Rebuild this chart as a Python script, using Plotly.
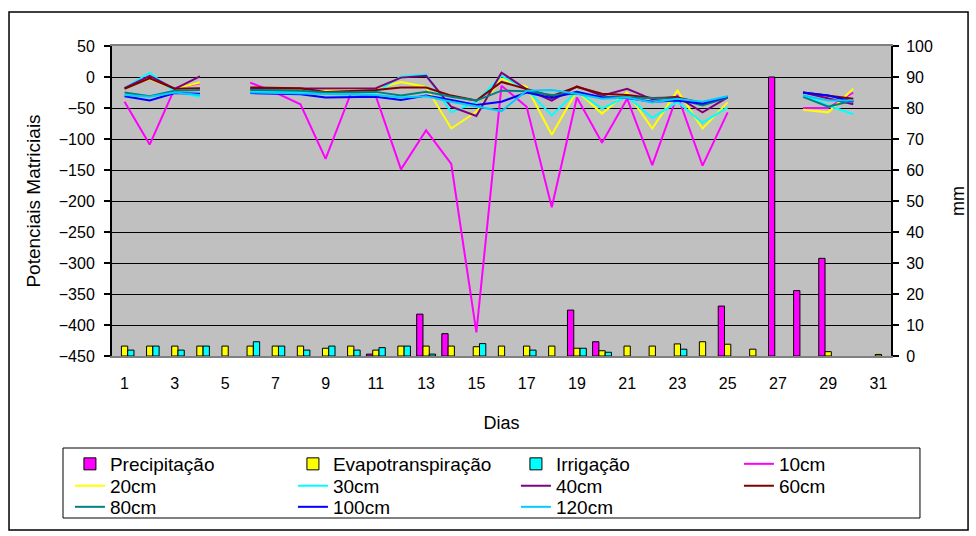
import plotly.graph_objects as go

# Dias do mês
dias = list(range(1, 32))
N = None

# Lâminas diárias (mm) - eixo da direita
precipitacao = [N, N, N, N, N, N, N, N, N, N, 0.6, N, 13.5, 7.2, N, N, N, N, 14.8, 4.6,
                N, N, N, N, 16.1, N, 90.0, 21.1, 31.5, N, N]
evapotranspiracao = [3.2, 3.2, 3.2, 3.2, 3.2, 3.2, 3.2, 3.2, 2.5, 3.2, 1.9, 3.2, 3.2, 3.2, 3.0, 3.2,
                     3.2, 3.2, 2.5, 1.7, 3.2, 3.2, 3.9, 4.6, 3.8, 2.2, N, N, 1.4, N, 0.5]
irrigacao = [1.9, 3.2, 1.9, 3.2, N, 4.6, 3.2, 1.9, 3.2, 1.9, 2.7, 3.2, 0.6, N, 4.0, N, 1.9, N,
             2.5, 1.2, N, N, 2.2, N, N, N, N, N, N, N, N]

# Potenciais matriciais por profundidade - eixo da esquerda
p10 = [-40, -109, -18, -10, N, -9, -25, -44, -132, -27, -31, -149, -86, -140, -412, -14, -48, -210,
       -33, -106, -35, -142, -29, -143, -57, N, N, -50, -50, -25, N]
p20 = [-18, -3, -19, -9, N, -19, -20, -19, -21, -20, -19, -8, -16, -83, -56, -3, -16, -93,
       -22, -59, -25, -83, -22, -83, -41, N, N, -53, -57, -19, N]
p30 = [-18, 7, -24, -32, N, -24, -24, -23, -26, -26, -25, 1, 4, -57, -40, 2, -20, -62,
       -23, -51, -31, -66, -40, -74, -49, N, N, -29, -46, -60, N]
p40 = [-18, 2, -19, 1, N, -19, -19, -19, -19, -18, -18, -1, 2, -48, -63, 7, -20, -38,
       -15, -30, -19, -36, -32, -57, -33, N, N, -25, -35, -44, N]
p60 = [-19, -2, -19, -18, N, -17, -18, -18, -24, -23, -21, -17, -17, -30, -38, -8, -19, -31,
       -16, -27, -29, -34, -33, -42, -33, N, N, -25, -30, -35, N]
p80 = [-25, -31, -22, -21, N, -21, -21, -22, -25, -24, -24, -30, -24, -32, -38, -22, -23, -29,
       -27, -32, -33, -35, -35, -46, -33, N, N, -32, -48, -38, N]
p100 = [-31, -38, -26, -27, N, -26, -27, -28, -33, -32, -32, -37, -30, -37, -45, -40, -25, -34,
        -24, -33, -34, -40, -38, -43, -32, N, N, -25, -30, -40, N]
p120 = [-29, -32, -25, -29, N, -25, -26, -26, -27, -29, -29, -33, -31, -40, -48, -55, -22, -21,
        -27, -35, -33, -41, -35, -40, -31, N, N, -30, -38, -38, N]

FONT = "Liberation Sans, Arial, sans-serif"

barras = [
    ("Precipitação", precipitacao, "#FF00FF", "legend"),
    ("Evapotranspiração", evapotranspiracao, "#FFFF00", "legend"),
    ("Irrigação", irrigacao, "#00FFFF", "legend"),
]
linhas = [
    ("10cm", p10, "#FF00FF", "legend"),
    ("20cm", p20, "#FFFF00", "legend2"),
    ("30cm", p30, "#00FFFF", "legend2"),
    ("40cm", p40, "#800080", "legend2"),
    ("60cm", p60, "#800000", "legend2"),
    ("80cm", p80, "#008080", "legend3"),
    ("100cm", p100, "#0000FF", "legend3"),
    ("120cm", p120, "#00CCFF", "legend3"),
]

fig = go.Figure()
for nome, vals, cor, leg in barras:
    fig.add_trace(go.Bar(x=dias, y=vals, name=nome, xaxis="x", yaxis="y",
                         marker=dict(color=cor, line=dict(color="black", width=1)),
                         legend=leg))
for nome, vals, cor, leg in linhas:
    fig.add_trace(go.Scatter(x=dias, y=vals, name=nome, mode="lines", xaxis="x", yaxis="y2",
                             line=dict(color=cor, width=2), connectgaps=False, legend=leg))

leg_common = dict(orientation="h", xanchor="left", yanchor="middle", x=-0.0540,
                  entrywidth=178, bgcolor="rgba(0,0,0,0)", borderwidth=0,
                  font=dict(family=FONT, size=19, color="black"), traceorder="normal")

fig.update_layout(
    width=976, height=536,
    margin=dict(l=112, r=85, t=46, b=180, autoexpand=False),
    paper_bgcolor="white", plot_bgcolor="#C0C0C0",
    font=dict(family=FONT, size=16, color="black"),
    barmode="group", bargap=0.25, bargroupgap=0,
    showlegend=True,
    legend=dict(leg_common, y=-0.3484),
    legend2=dict(leg_common, y=-0.419),
    legend3=dict(leg_common, y=-0.487),
    xaxis=dict(range=[0.5, 31.5], tickvals=dias[::2], ticktext=[str(d) for d in dias[::2]],
               ticks="", showgrid=False, zeroline=False, showline=True, linecolor="#808080",
               linewidth=2, mirror=True, ticklabelstandoff=12,
               tickfont=dict(size=16),
               title=dict(text="Dias", font=dict(size=18), standoff=25)),
    xaxis3=dict(overlaying="x", anchor="free", position=500 / 550, side="bottom",
                range=[0.5, 31.5], tickvals=[d - 0.5 for d in dias] + [31.5],
                ticks="outside", ticklen=6, tickwidth=2, tickcolor="black",
                showticklabels=False, showgrid=False, zeroline=False, showline=False),
    yaxis=dict(side="right", range=[0, 100], dtick=10, ticks="outside", ticklen=6,
               tickwidth=2, tickcolor="black", showgrid=False, zeroline=False,
               showline=True, linecolor="black", linewidth=2, ticklabelstandoff=4,
               tickfont=dict(size=16),
               title=dict(text="mm", font=dict(size=18), standoff=19)),
    yaxis2=dict(overlaying="y", side="left", range=[-450, 50], dtick=50, ticks="outside",
                ticklen=6, tickwidth=2, tickcolor="black", showgrid=True,
                gridcolor="black", gridwidth=1, zeroline=False, showline=True,
                linecolor="black", linewidth=2, ticklabelstandoff=6,
                tickfont=dict(size=16),
                title=dict(text="Potenciais Matriciais", font=dict(size=19), standoff=13)),
    shapes=[
        # moldura externa do gráfico
        dict(type="rect", xref="paper", yref="paper", x0=-0.1322, x1=1.0989,
             y0=-0.5613, y1=1.1097, line=dict(color="black", width=1.5), layer="below"),
        # moldura da legenda
        dict(type="rect", xref="paper", yref="paper", x0=-0.0629, x1=1.0372,
             y0=-0.5226, y1=-0.2968, line=dict(color="black", width=1), layer="below"),
    ],
)

fig.write_html("out.html")
